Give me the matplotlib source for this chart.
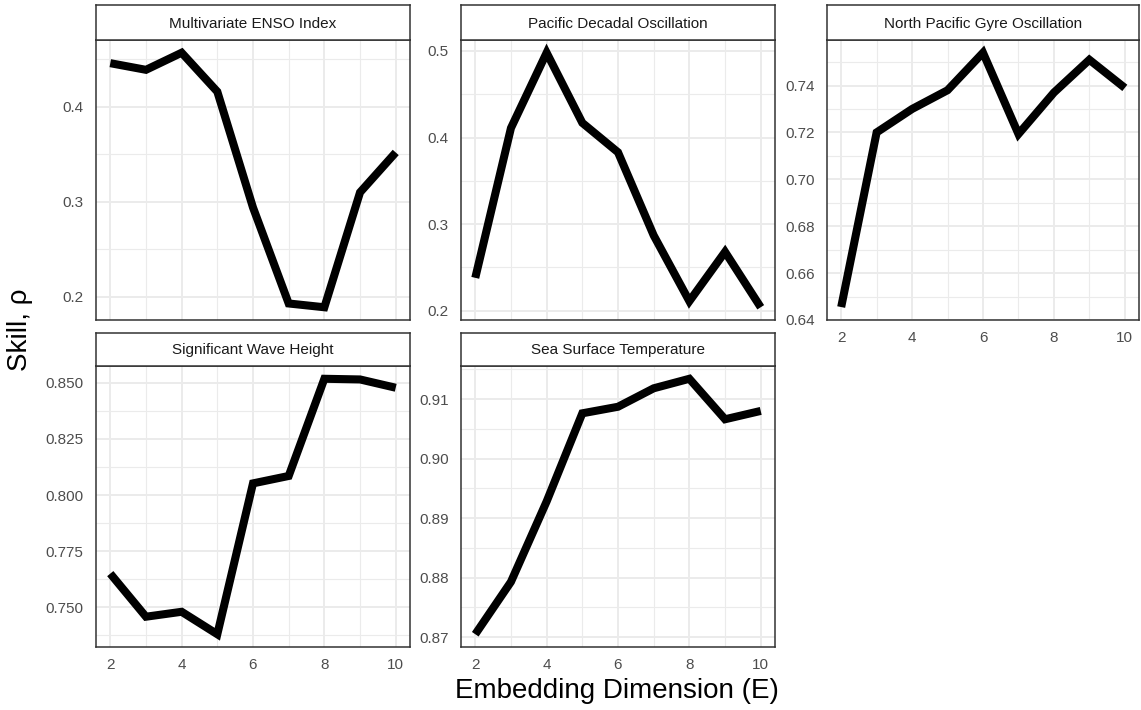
import matplotlib
matplotlib.use("Agg")
import matplotlib.pyplot as plt
from matplotlib.ticker import MultipleLocator

plt.rcParams["font.family"] = ["Liberation Sans", "DejaVu Sans"]

E = [2, 3, 4, 5, 6, 7, 8, 9, 10]

titles = [
    "Multivariate ENSO Index",
    "Pacific Decadal Oscillation",
    "North Pacific Gyre Oscillation",
    "Significant Wave Height",
    "Sea Surface Temperature",
]

mei = [0.446, 0.439, 0.457, 0.416, 0.294, 0.193, 0.189, 0.310, 0.352]
pdo = [0.238, 0.411, 0.498, 0.417, 0.383, 0.287, 0.211, 0.268, 0.204]
npgo = [0.6455, 0.720, 0.730, 0.738, 0.754, 0.7193, 0.737, 0.751, 0.739]
swh = [0.765, 0.7458, 0.748, 0.738, 0.8052, 0.8085, 0.8518, 0.8515, 0.8478]
sst = [0.8705, 0.8793, 0.8928, 0.9076, 0.9087, 0.9118, 0.9134, 0.9066, 0.9080]

series = [mei, pdo, npgo, swh, sst]
y_major = [0.1, 0.1, 0.02, 0.025, 0.01]
y_fmt = ["{:.1f}", "{:.1f}", "{:.2f}", "{:.3f}", "{:.2f}"]

W, H = 1141, 710
fig = plt.figure(figsize=(W / 100, H / 100), dpi=100)

# panel boxes in pixels: (left, right) per column, (strip_top, panel_top, panel_bottom) per row
cols = [(96, 410), (461, 775), (827, 1139)]
rows = [(5, 40, 320), (333, 366, 647)]
grid_col = "#EBEBEB"
border = "#333333"


def box(l, r, t, b):
    return [l / W, 1 - b / H, (r - l) / W, (b - t) / H]


def expanded(vals, step, frac=0.05):
    lo, hi = min(vals), max(vals)
    pad = (hi - lo) * frac
    lo, hi = lo - pad, hi + pad
    # keep a tick sitting right on the edge instead of losing it to rounding
    k = round(lo / step)
    if abs(lo - k * step) < step * 0.02:
        lo = k * step - step * 1e-3
    return lo, hi


for i, (title, vals) in enumerate(zip(titles, series)):
    row, col = divmod(i, 3)
    l, r = cols[col]
    st, pt, pb = rows[row]
    ax = fig.add_axes(box(l, r, pt, pb))
    ax.plot(E, vals, color="black", lw=5.8, solid_capstyle="butt",
            solid_joinstyle="miter", zorder=3)
    ax.set_xlim(1.6, 10.4)
    ax.set_ylim(*expanded(vals, y_major[i]))
    ax.xaxis.set_major_locator(MultipleLocator(2))
    ax.xaxis.set_minor_locator(MultipleLocator(1))
    ax.yaxis.set_major_locator(MultipleLocator(y_major[i]))
    ax.yaxis.set_minor_locator(MultipleLocator(y_major[i] / 2))
    ax.grid(which="major", color=grid_col, lw=1.4, zorder=0)
    ax.grid(which="minor", color=grid_col, lw=0.8, zorder=0)
    ax.set_axisbelow(True)
    fmt = y_fmt[i]
    ax.yaxis.set_major_formatter(plt.FuncFormatter(lambda v, p, f=fmt: f.format(v)))
    ax.tick_params(which="both", length=0, labelsize=11, colors="#4D4D4D")
    ax.tick_params(axis="y", pad=9)
    ax.tick_params(axis="x", pad=8)
    # only the bottom panel of each column shows x labels
    if not (row == 1 or col == 2):
        ax.tick_params(labelbottom=False)
    for s in ax.spines.values():
        s.set_color(border)
        s.set_linewidth(1.1)

    sax = fig.add_axes(box(l, r, st, pt))
    sax.set_xticks([])
    sax.set_yticks([])
    for s in sax.spines.values():
        s.set_color(border)
        s.set_linewidth(1.1)
    sax.text(0.5, 0.47, title, ha="center", va="center", fontsize=11,
             color="#1A1A1A", transform=sax.transAxes)

fig.text(617 / W, 1 - 691 / H, "Embedding Dimension (E)", ha="center",
         va="center", fontsize=20, color="black")
fig.text(20 / W, 1 - 330 / H, "Skill, ρ", ha="center", va="center",
         rotation=90, fontsize=20, color="black")

fig.savefig("out.png", dpi=100)
